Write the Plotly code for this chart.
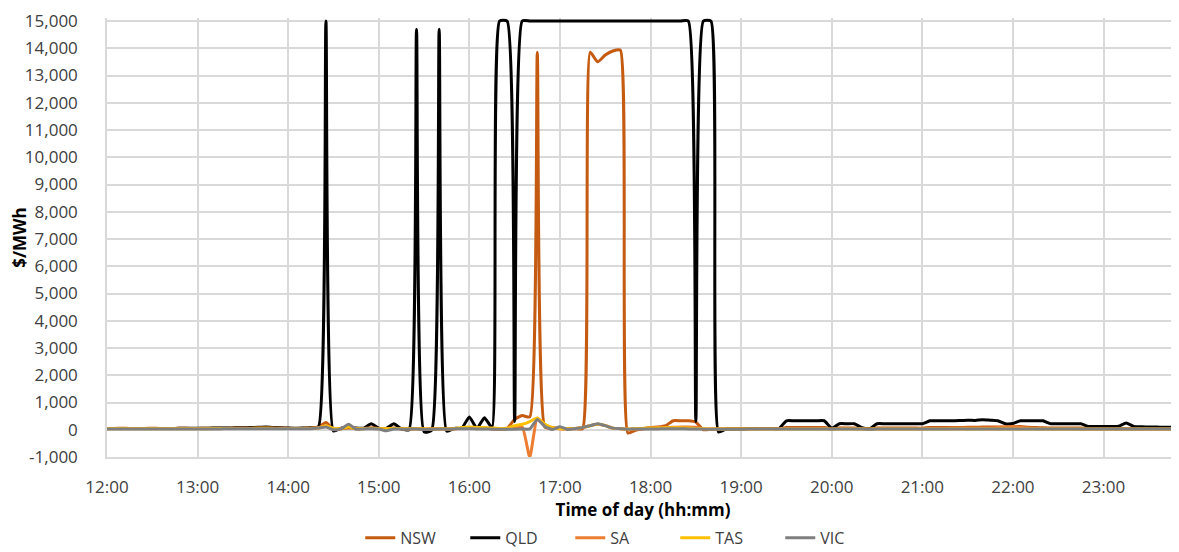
import pandas as pd
import plotly.graph_objects as go

# 5-minute dispatch intervals, 12:00 to 23:50
TIMES = pd.date_range("2024-01-01 12:00", "2024-01-01 23:50", freq="5min")

# prices in $/MWh, one row per hour (:00 ... :55)
NSW = [
    50, 50, 52, 50, 48, 50, 52, 50, 50, 50, 52, 50,
    50, 52, 55, 55, 58, 60, 62, 65, 70, 75, 70, 60,
    55, 50, 55, 60, 100, 270, 20, 40, 60, 50, 50, 60,
    50, 45, 60, 40, 30, 50, 20, 30, 40, 30, 40, 50,
    60, 50, 60, 40, 30, 50, 380, 520, 470, 13850, 100, 60,
    50, 40, 40, 40, 13850, 13500, 13750, 13900, 13930, -120, -20, 40,
    80, 100, 150, 330, 330, 330, 280, 0, 20, 30, 30, 40,
    40, 40, 45, 40, 50, 45, 80, 80, 80, 80, 80, 80,
    50, 60, 60, 60, 50, 40, 60, 60, 60, 60, 60, 60,
    60, 80, 80, 80, 80, 80, 90, 90, 100, 100, 100, 100,
    100, 120, 90, 80, 70, 60, 60, 60, 60, 60, 50, 50,
    50, 50, 50, 50, 50, 50, 50, 50, 50, 50, 50,
]
QLD = [
    45, 48, 50, 47, 46, 45, 44, 46, 48, 50, 52, 55,
    55, 58, 60, 62, 65, 70, 75, 80, 90, 100, 80, 70,
    60, 55, 60, 70, 100, 15000, -50, 60, 100, 60, 60, 220,
    60, 50, 220, 30, 0, 14700, -80, -20, 14700, -50, 50, 60,
    470, 50, 440, 80, 15000, 15000, 300, 15000, 15000, 15000, 15000, 15000,
    15000, 15000, 15000, 15000, 15000, 15000, 15000, 15000, 15000, 15000, 15000, 15000,
    15000, 15000, 15000, 15000, 15000, 15000, 300, 15000, 15000, -80, 30, 40,
    40, 45, 40, 45, 50, 45, 330, 330, 330, 330, 330, 330,
    60, 220, 220, 220, 80, 40, 220, 220, 220, 220, 220, 220,
    220, 330, 330, 330, 330, 340, 350, 340, 370, 350, 330, 220,
    230, 330, 330, 330, 330, 220, 220, 220, 220, 220, 120, 120,
    120, 120, 130, 250, 120, 110, 100, 100, 90, 90, 80,
]
SA = [
    45, 45, 46, 45, 44, 45, 46, 45, 45, 45, 46, 45,
    45, 46, 48, 48, 50, 52, 55, 58, 60, 62, 60, 55,
    50, 48, 50, 55, 80, 150, 10, 40, 120, 40, 45, 60,
    45, 40, 50, 40, 30, 40, 30, 30, 40, 30, 40, 50,
    55, 50, 55, 40, 30, 40, 60, 100, -1000, 420, 150, 80,
    30, 40, 50, 80, 150, 200, 150, 60, 40, 20, 30, 40,
    60, 70, 80, 90, 100, 100, 90, 40, 30, 30, 30, 35,
    35, 35, 40, 35, 40, 40, 50, 50, 50, 50, 50, 50,
    30, 50, 50, 50, 40, 30, 40, 40, 40, 40, 40, 40,
    40, 50, 50, 50, 60, 60, 60, 60, 60, 60, 80, 100,
    120, 80, 60, 50, 40, 40, 40, 40, 30, 30, 30, 30,
    30, 30, 30, 30, 30, 30, 30, 30, 30, 30, 30,
]
TAS = [
    40, 40, 40, 40, 40, 40, 40, 40, 40, 40, 40, 40,
    40, 40, 42, 42, 45, 45, 50, 50, 55, 55, 50, 45,
    45, 45, 45, 50, 60, 150, 50, 40, 100, 40, 40, 50,
    40, 40, 45, 40, 35, 40, 30, 30, 40, 30, 40, 80,
    100, 80, 80, 60, 50, 60, 150, 200, 300, 430, 200, 80,
    40, 40, 50, 80, 150, 200, 150, 60, 40, 30, 40, 50,
    60, 60, 70, 70, 70, 60, 50, 40, 30, 30, 30, 30,
    30, 30, 30, 30, 30, 30, 30, 30, 30, 30, 30, 30,
    20, 30, 30, 30, 30, 20, 30, 30, 30, 30, 30, 30,
    30, 30, 30, 30, 30, 30, 30, 30, 30, 30, 30, 30,
    30, 30, 30, 30, 30, 30, 30, 30, 30, 30, 30, 30,
    30, 30, 30, 30, 30, 30, 30, 30, 30, 30, 30,
]
VIC = [
    30, 30, 30, 30, 30, 30, 30, 30, 30, 30, 30, 30,
    30, 30, 32, 32, 35, 35, 38, 38, 40, 40, 38, 35,
    35, 35, 35, 40, 60, 100, 0, 30, 200, 20, 30, 40,
    30, -40, 30, 20, 20, 30, 10, 20, 30, 20, 30, 40,
    40, 30, 30, 20, 20, 20, 20, 30, 30, 380, 120, 10,
    110, 10, 40, 80, 150, 220, 150, 60, 40, 20, 30, 30,
    30, 30, 40, 40, 40, 30, 30, 20, 20, 20, 20, 20,
    20, 25, 25, 25, 25, 25, 30, 30, 30, 30, 30, 30,
    20, 30, 30, 30, 25, 20, 25, 25, 25, 25, 25, 25,
    25, 25, 25, 25, 25, 25, 25, 25, 25, 25, 25, 25,
    25, 25, 25, 25, 25, 25, 25, 25, 25, 25, 25, 25,
    25, 25, 25, 25, 25, 25, 25, 25, 25, 25, 25,
]

SERIES = [
    ("NSW", NSW, "#C55A11"),
    ("QLD", QLD, "#000000"),
    ("SA", SA, "#ED7D31"),
    ("TAS", TAS, "#FFC000"),
    ("VIC", VIC, "#7F7F7F"),
]

Y_TICKS = list(range(-1000, 16000, 1000))
Y_LABELS = [f"{v:,}" for v in Y_TICKS]
X_TICKS = pd.date_range("2024-01-01 12:00", "2024-01-01 23:00", freq="1h")
X_LABELS = [t.strftime("%H:%M") for t in X_TICKS]

FONT = "Open Sans"
GRID = "#D9D9D9"

fig = go.Figure()
for name, vals, color in SERIES:
    fig.add_trace(go.Scatter(
        x=TIMES, y=vals, name=name, mode="lines",
        line=dict(color=color, width=3, shape="spline", smoothing=0.5),
    ))

# page body has an 8px margin, so the figure is sized to fill the rest;
# y range reaches a touch above 15,000 so the capped lines are not clipped
fig.update_layout(
    width=1171, height=544,
    margin=dict(l=99, r=0, t=10, b=95, autoexpand=False),
    plot_bgcolor="white", paper_bgcolor="white",
    font=dict(family=FONT, size=17, color="#404040"),
    showlegend=True,
    legend=dict(orientation="h", xref="container", yref="container",
                x=0.525, xanchor="center", y=0.026, yanchor="middle",
                font=dict(size=16, color="#404040"),
                entrywidth=60, entrywidthmode="pixels"),
)
fig.update_xaxes(
    range=["2024-01-01 12:00", "2024-01-01 23:50"],
    tickvals=X_TICKS, ticktext=X_LABELS,
    showgrid=True, gridcolor=GRID, gridwidth=1.5,
    showline=True, linecolor=GRID, linewidth=1.5,
    ticks="", ticklabelstandoff=14,
    title=dict(text="<b>Time of day (hh:mm)</b>", standoff=8,
               font=dict(size=17, color="#000000")),
    zeroline=False,
)
fig.update_yaxes(
    range=[-1000, 15110],
    tickvals=Y_TICKS, ticktext=Y_LABELS,
    showgrid=True, gridcolor=GRID, gridwidth=1.5,
    showline=True, linecolor=GRID, linewidth=1.5,
    ticks="", ticklabelstandoff=24,
    title=dict(text="<b>$/MWh</b>", standoff=0,
               font=dict(size=17, color="#000000")),
    zeroline=False,
)

fig.write_html("out.html")
